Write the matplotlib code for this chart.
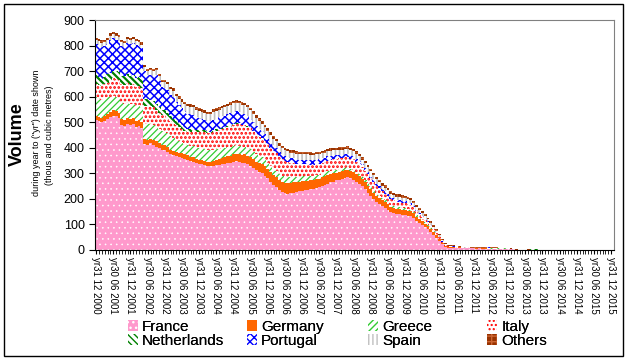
import numpy as np
import matplotlib
matplotlib.use("Agg")
import matplotlib.pyplot as plt
from matplotlib.patches import Patch, Rectangle

plt.rcParams['font.family'] = ['Liberation Sans', 'DejaVu Sans']
plt.rcParams['hatch.linewidth'] = 1.0

# monthly volumes, yr to 31 12 2000 ... yr to 31 12 2015 (thous m3)
france = [
    508, 505, 500, 503, 512, 520, 525, 524, 518, 490,
    486, 495, 489, 492, 482, 486, 476, 415, 410, 418,
    412, 405, 398, 392, 390, 385, 375, 370, 366, 362,
    360, 357, 352, 348, 345, 341, 338, 335, 332, 330,
    328, 330, 332, 333, 335, 338, 340, 342, 345, 348,
    345, 342, 340, 336, 330, 321, 312, 305, 300, 290,
    280, 266, 256, 246, 236, 228, 222, 220, 222, 225,
    228, 230, 232, 234, 236, 238, 240, 242, 245, 250,
    255, 260, 265, 268, 272, 275, 279, 282, 285, 280,
    275, 268, 260, 250, 238, 225, 212, 200, 188, 180,
    172, 165, 158, 150, 145, 142, 140, 138, 137, 135,
    133, 125, 115, 106, 98, 90, 82, 70, 59, 48,
    35, 22, 12, 9, 8, 8, 7, 8, 7, 6,
    7, 6, 6, 5, 6, 5, 5, 4, 5, 4,
    4, 4, 3, 4, 3, 3, 2, 0, 0, 0,
    0, 0, 0, 0, 0, 0, 0, 0, 0, 0,
    0, 0, 0, 0, 0, 0, 0, 0, 0, 0,
    0, 0, 0, 0, 0, 0, 0, 0, 0, 0,
    0]
germany = [
    18, 17, 18, 20, 19, 20, 22, 21, 20, 22,
    24, 20, 22, 23, 21, 22, 24, 20, 22, 18,
    20, 22, 20, 18, 20, 19, 18, 17, 18, 19,
    18, 17, 18, 16, 18, 15, 16, 18, 17, 16,
    18, 20, 22, 24, 26, 25, 28, 27, 30, 29,
    32, 30, 34, 33, 35, 36, 34, 36, 35, 37,
    36, 38, 37, 40, 38, 39, 40, 41, 40, 42,
    37, 36, 37, 36, 35, 34, 33, 34, 33, 34,
    33, 34, 32, 33, 31, 32, 30, 31, 30, 29,
    30, 28, 29, 27, 28, 26, 25, 25, 24, 23,
    22, 22, 21, 20, 21, 20, 20, 19, 20, 19,
    18, 18, 16, 15, 14, 13, 12, 11, 10, 9,
    7, 5, 3, 2, 2, 2, 1, 2, 1, 1,
    1, 1, 1, 1, 1, 1, 1, 1, 0, 1,
    1, 0, 1, 0, 1, 0, 0, 0, 0, 0,
    0, 0, 0, 0, 0, 0, 0, 0, 0, 0,
    0, 0, 0, 0, 0, 0, 0, 0, 0, 0,
    0, 0, 0, 0, 0, 0, 0, 0, 0, 0,
    0]
greece = [
    72, 70, 68, 70, 66, 58, 55, 54, 56, 62,
    60, 61, 60, 58, 60, 59, 60, 58, 60, 57,
    58, 56, 55, 54, 55, 53, 52, 50, 48, 46,
    44, 42, 40, 42, 44, 45, 46, 45, 46, 45,
    44, 43, 42, 40, 38, 36, 35, 34, 33, 32,
    31, 30, 30, 30, 29, 28, 28, 27, 27, 26,
    26, 25, 25, 25, 24, 24, 23, 24, 23, 22,
    22, 21, 20, 20, 19, 18, 17, 17, 16, 16,
    15, 14, 13, 12, 11, 10, 9, 8, 8, 9,
    10, 10, 9, 10, 9, 10, 9, 10, 9, 10,
    9, 9, 8, 8, 8, 7, 8, 7, 8, 7,
    7, 6, 6, 6, 5, 5, 4, 4, 4, 3,
    3, 2, 2, 1, 1, 1, 1, 1, 1, 1,
    1, 1, 1, 1, 1, 1, 1, 2, 1, 2,
    2, 2, 1, 2, 2, 1, 1, 0, 0, 0,
    0, 0, 0, 0, 0, 0, 0, 0, 0, 0,
    0, 0, 0, 0, 0, 0, 0, 0, 0, 0,
    0, 0, 0, 0, 0, 0, 0, 0, 0, 0,
    0]
italy = [
    53, 55, 56, 55, 58, 65, 70, 72, 72, 75,
    76, 78, 75, 77, 74, 76, 75, 70, 72, 70,
    68, 66, 65, 63, 62, 60, 60, 58, 56, 55,
    52, 50, 50, 55, 58, 60, 62, 64, 65, 66,
    66, 68, 70, 72, 74, 76, 78, 80, 82, 84,
    85, 86, 85, 84, 82, 80, 78, 76, 74, 72,
    72, 70, 70, 68, 66, 64, 62, 60, 56, 52,
    50, 48, 47, 46, 45, 44, 44, 43, 43, 42,
    42, 42, 42, 42, 42, 42, 41, 41, 41, 40,
    40, 39, 38, 37, 36, 35, 34, 32, 30, 28,
    26, 25, 24, 22, 21, 20, 20, 21, 20, 20,
    19, 18, 15, 13, 12, 11, 10, 9, 8, 7,
    5, 4, 2, 2, 2, 2, 1, 1, 1, 1,
    1, 1, 1, 1, 1, 2, 1, 2, 2, 1,
    1, 1, 1, 1, 1, 1, 1, 1, 0, 0,
    0, 1, 0, 0, 0, 0, 0, 0, 0, 0,
    0, 0, 0, 0, 0, 0, 0, 0, 0, 0,
    0, 0, 0, 0, 0, 0, 0, 0, 0, 0,
    0]
netherlands = [
    32, 30, 28, 30, 32, 30, 30, 28, 30, 32,
    34, 36, 35, 34, 36, 35, 34, 28, 26, 25,
    24, 24, 22, 22, 20, 20, 18, 17, 16, 15,
    14, 13, 12, 11, 10, 10, 9, 9, 8, 8,
    7, 7, 6, 6, 5, 5, 4, 4, 3, 3,
    3, 2, 2, 2, 1, 1, 1, 1, 1, 1,
    1, 1, 0, 0, 0, 0, 0, 0, 0, 0,
    0, 0, 0, 0, 0, 0, 0, 0, 0, 0,
    0, 0, 0, 0, 0, 0, 0, 0, 0, 0,
    0, 0, 0, 0, 0, 0, 0, 0, 0, 0,
    0, 0, 0, 0, 0, 0, 0, 0, 0, 0,
    0, 0, 0, 0, 0, 0, 0, 0, 0, 0,
    0, 0, 0, 0, 0, 0, 0, 0, 0, 0,
    0, 0, 0, 0, 0, 0, 0, 0, 0, 0,
    0, 0, 0, 0, 0, 0, 0, 0, 0, 0,
    0, 0, 2, 3, 2, 0, 0, 0, 0, 0,
    0, 0, 0, 0, 0, 0, 0, 0, 0, 0,
    0, 0, 0, 0, 0, 0, 0, 0, 0, 0,
    0]
portugal = [
    124, 125, 126, 122, 118, 130, 128, 124, 122, 118,
    116, 120, 124, 126, 128, 122, 120, 110, 95, 97,
    100, 110, 100, 90, 88, 90, 85, 88, 75, 70,
    68, 65, 62, 60, 55, 50, 45, 42, 40, 38,
    40, 42, 42, 44, 45, 46, 46, 48, 48, 46,
    44, 42, 40, 38, 36, 34, 32, 30, 28, 26,
    24, 24, 22, 22, 20, 20, 20, 20, 18, 18,
    18, 18, 18, 18, 18, 18, 18, 18, 18, 18,
    16, 16, 16, 15, 15, 14, 14, 13, 13, 12,
    12, 12, 11, 11, 10, 10, 10, 9, 9, 8,
    8, 8, 8, 7, 7, 7, 7, 7, 6, 6,
    6, 6, 5, 5, 5, 4, 4, 4, 3, 3,
    2, 2, 1, 1, 1, 1, 0, 0, 0, 0,
    0, 0, 0, 0, 0, 0, 0, 1, 0, 0,
    0, 0, 0, 0, 0, 0, 0, 0, 0, 0,
    0, 0, 0, 0, 0, 0, 0, 0, 0, 0,
    0, 0, 0, 0, 0, 0, 0, 0, 0, 0,
    0, 0, 0, 0, 0, 0, 0, 0, 0, 0,
    0]
spain = [
    13, 14, 15, 14, 15, 16, 15, 16, 15, 14,
    14, 15, 16, 15, 16, 15, 15, 14, 16, 18,
    18, 20, 20, 20, 22, 22, 22, 24, 24, 25,
    25, 26, 28, 28, 28, 28, 28, 28, 28, 28,
    28, 30, 30, 30, 32, 32, 32, 34, 34, 35,
    35, 36, 36, 35, 34, 33, 32, 31, 30, 29,
    28, 27, 26, 25, 24, 24, 23, 22, 22, 22,
    22, 22, 21, 21, 21, 21, 20, 20, 20, 20,
    20, 20, 20, 20, 20, 20, 20, 20, 20, 20,
    20, 20, 19, 19, 18, 18, 18, 17, 17, 16,
    15, 15, 14, 14, 13, 13, 13, 13, 12, 12,
    12, 11, 10, 10, 9, 9, 8, 8, 7, 6,
    5, 4, 3, 2, 2, 2, 1, 1, 1, 1,
    0, 0, 0, 0, 0, 0, 0, 0, 0, 0,
    0, 0, 0, 0, 0, 0, 0, 0, 0, 0,
    0, 0, 0, 0, 0, 0, 0, 0, 0, 0,
    0, 0, 0, 0, 0, 0, 0, 0, 0, 0,
    0, 0, 0, 0, 0, 0, 0, 0, 0, 0,
    0]
others = [
    8, 8, 9, 8, 8, 10, 10, 9, 9, 8,
    8, 9, 9, 10, 9, 8, 8, 8, 8, 8,
    8, 9, 8, 8, 9, 8, 8, 9, 9, 9,
    9, 10, 10, 10, 10, 10, 10, 10, 10, 10,
    10, 10, 10, 10, 10, 10, 10, 10, 10, 10,
    10, 10, 10, 10, 10, 10, 10, 10, 10, 10,
    10, 10, 10, 10, 9, 9, 9, 9, 9, 9,
    9, 9, 9, 9, 9, 9, 9, 9, 9, 9,
    9, 9, 10, 10, 10, 10, 10, 10, 10, 10,
    10, 10, 10, 10, 10, 10, 10, 10, 10, 10,
    10, 10, 10, 10, 10, 10, 10, 10, 10, 10,
    9, 9, 8, 8, 8, 7, 7, 6, 6, 5,
    4, 3, 3, 2, 2, 2, 2, 2, 2, 2,
    2, 2, 2, 2, 2, 2, 2, 3, 2, 2,
    2, 2, 2, 1, 2, 2, 1, 1, 1, 1,
    1, 1, 1, 1, 1, 0, 0, 0, 0, 0,
    0, 0, 0, 0, 0, 0, 0, 0, 0, 0,
    0, 0, 0, 0, 0, 0, 0, 0, 0, 0,
    0]

countries = ["France", "Germany", "Greece", "Italy",
             "Netherlands", "Portugal", "Spain", "Others"]
series = [france, germany, greece, italy, netherlands, portugal, spain, others]

# fill style per country: (face, hatch colour, hatch, hatch linewidth)
styles = {
    "France":      ("#FF99CC", "white",   "...",  0.4),
    "Germany":     ("#FF6600", "#FF6600", None,   1.0),
    "Greece":      ("white",   "#33CC33", "/////", 0.9),
    "Italy":       ("white",   "#FF0000", "....", 1.3),
    "Netherlands": ("white",   "#008000", "\\\\\\\\\\", 1.6),
    "Portugal":    ("white",   "#0000FF", "xxxx", 1.1),
    "Spain":       ("white",   "#C0C0C0", "||||", 1.2),
    "Others":      ("#993300", "#CC6633", "+++", 0.6),
}


def hatch_lw(artist, lw):
    # per-artist hatch width where this matplotlib has it
    if hasattr(artist, "set_hatch_linewidth"):
        artist.set_hatch_linewidth(lw)
    elif hasattr(artist, "_hatch_linewidth"):
        artist._hatch_linewidth = lw


tick_labels = []
for yr in range(2000, 2016):
    if yr > 2000:
        tick_labels.append(f"yr30 06 {yr}")
    tick_labels.append(f"yr31 12 {yr}")

n = len(france)
edges = np.arange(n + 1) - 0.5

fig = plt.figure(figsize=(6.28, 3.63), dpi=100)
ax = fig.add_axes([95 / 628, 113 / 363, 519 / 628, 230 / 363])

bottom = np.zeros(n)
handles = {}
for name, vals in zip(countries, series):
    vals = np.asarray(vals, dtype=float)
    face, hcol, hatch, hlw = styles[name]
    st = ax.stairs(bottom + vals, edges, baseline=bottom, fill=True,
                   facecolor=face, edgecolor=hcol, hatch=hatch, linewidth=0)
    hatch_lw(st, hlw)
    h = Patch(facecolor=face, edgecolor=hcol, hatch=hatch, linewidth=0)
    hatch_lw(h, hlw)
    handles[name] = h
    bottom = bottom + vals

ax.set_xlim(-0.4, 181.0)
ax.set_ylim(0, 900)
ax.set_yticks(np.arange(0, 901, 100))
ax.tick_params(axis='y', labelsize=9, length=4, direction='out')
ax.set_xticks(np.arange(0, n), minor=True)
ax.set_xticks(np.arange(0, n, 6))
ax.set_xticklabels(tick_labels, rotation=270, fontsize=7, va='top', ha='center')
ax.tick_params(axis='x', which='both', length=3, direction='out', pad=2)

for s in ['top', 'right']:
    ax.spines[s].set_color('#808080')
for s in ['left', 'bottom']:
    ax.spines[s].set_color('black')

fig.text(17.5 / 628, 1 - 134 / 363, "Volume", rotation=90, fontsize=13,
         fontweight='bold', ha='center', va='center')
fig.text(36.5 / 628, 1 - 133 / 363, 'during year to ("yr") date shown', rotation=90,
         fontsize=6.5, ha='center', va='center')
fig.text(49 / 628, 1 - 135 / 363, "(thous and cubic metres)", rotation=90,
         fontsize=6.5, ha='center', va='center')

# legend: four equal-width columns, two rows
columns = [["France", "Netherlands"], ["Germany", "Portugal"],
           ["Greece", "Spain"], ["Italy", "Others"]]
col_x = [128, 247, 368, 487]
for cx, names in zip(col_x, columns):
    leg = fig.legend([handles[k] for k in names], names, loc='upper left',
                     bbox_to_anchor=(cx / 628, 1 - 320 / 363), frameon=False,
                     fontsize=11, handlelength=0.68, handleheight=0.68,
                     handletextpad=0.25, labelspacing=0.0, borderpad=0.0,
                     borderaxespad=0.0)
    fig.add_artist(leg)

fig.patches.append(Rectangle((4 / 628, 1 - 356 / 363), 619 / 628, 352 / 363,
                             transform=fig.transFigure, fill=False,
                             edgecolor='black', linewidth=1))

fig.savefig("out.png", dpi=100)
